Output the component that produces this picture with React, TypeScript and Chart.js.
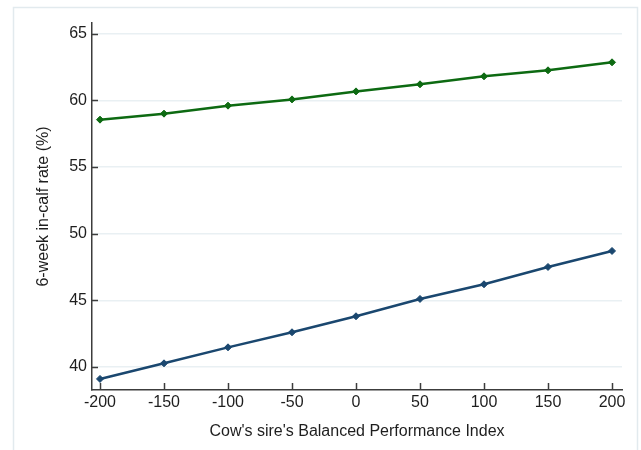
import React, { useEffect, useRef } from 'react';
import { Chart, registerables } from 'chart.js';

Chart.register(...registerables);

// ---- data ----
const bpiValues = [-200, -150, -100, -50, 0, 50, 100, 150, 200];
const greenSeries = [58.55, 59.0, 59.6, 60.07, 60.67, 61.2, 61.8, 62.25, 62.85];
const blueSeries = [39.1, 40.27, 41.47, 42.6, 43.8, 45.1, 46.2, 47.5, 48.7];
const xTickValues = [-200, -150, -100, -50, 0, 50, 100, 150, 200];
const yTickValues = [40, 45, 50, 55, 60, 65];
const xTitle = "Cow's sire's Balanced Performance Index";
const yTitle = '6-week in-calf rate (%)';

const GREEN = '#0d6a12';
const NAVY = '#1a476f';
const AXIS = '#3c3c3c';
const TEXT = '#1e1e1e';
const FONT = "'Liberation Sans', Arial, sans-serif";

const decorPlugin = {
  id: 'decor',
  beforeDraw(chart: any) {
    const ctx = chart.ctx;
    ctx.save();
    ctx.fillStyle = '#ffffff';
    ctx.fillRect(0, 0, chart.width, chart.height);
    ctx.strokeStyle = '#e2eaee';
    ctx.lineWidth = 1.5;
    ctx.strokeRect(13.5, 7.5, 624, 470);
    ctx.restore();
  },
  afterDraw(chart: any) {
    const ctx = chart.ctx;
    const { left, bottom } = chart.chartArea;
    const xs = chart.scales.x;
    const ys = chart.scales.y;
    ctx.save();
    ctx.strokeStyle = AXIS;
    ctx.lineWidth = 1.5;
    ctx.beginPath();
    xs.ticks.forEach((t: any) => {
      const px = Math.round(xs.getPixelForValue(t.value)) + 0.5;
      ctx.moveTo(px, bottom);
      ctx.lineTo(px, bottom - 7);
    });
    ys.ticks.forEach((t: any) => {
      const py = Math.round(ys.getPixelForValue(t.value)) + 0.5;
      ctx.moveTo(left, py);
      ctx.lineTo(left + 6, py);
    });
    ctx.stroke();
    ctx.restore();
  },
};

export default function App() {
  const ref = useRef<HTMLCanvasElement | null>(null);

  useEffect(() => {
    if (!ref.current) return;
    const chart = new Chart(ref.current, {
      type: 'line',
      data: {
        datasets: [
          {
            label: 'Upper',
            data: bpiValues.map((x, i) => ({ x, y: greenSeries[i] })),
            borderColor: GREEN,
            backgroundColor: GREEN,
            borderWidth: 2.5,
            pointStyle: 'rectRot',
            pointRadius: 3.5,
            pointBorderWidth: 1,
            tension: 0,
          },
          {
            label: 'Lower',
            data: bpiValues.map((x, i) => ({ x, y: blueSeries[i] })),
            borderColor: NAVY,
            backgroundColor: NAVY,
            borderWidth: 2.5,
            pointStyle: 'rectRot',
            pointRadius: 3.5,
            pointBorderWidth: 1,
            tension: 0,
          },
        ],
      },
      options: {
        animation: false,
        responsive: false,
        maintainAspectRatio: false,
        layout: { padding: { top: 23, right: 19, left: 0, bottom: 0 } },
        plugins: {
          legend: { display: false },
          tooltip: { enabled: false },
        },
        scales: {
          x: {
            type: 'linear',
            min: -206.25,
            max: 207.8,
            afterBuildTicks: (s: any) => {
              s.ticks = xTickValues.map((v) => ({ value: v }));
            },
            afterFit: (s: any) => {
              s.height = 60;
            },
            grid: { display: false, drawTicks: false },
            border: { display: true, color: AXIS, width: 1.5 },
            ticks: {
              padding: 3,
              color: TEXT,
              font: { family: FONT, size: 16 },
              maxRotation: 0,
            },
            title: {
              display: true,
              text: xTitle,
              color: TEXT,
              font: { family: FONT, size: 16 },
              padding: { top: 4, bottom: 9 },
            },
          },
          y: {
            type: 'linear',
            min: 38.27,
            max: 65.8,
            afterBuildTicks: (s: any) => {
              s.ticks = yTickValues.map((v) => ({ value: v }));
            },
            afterFit: (s: any) => {
              s.width = 92;
            },
            grid: { color: '#e9f0f3', lineWidth: 1.5, drawTicks: false },
            border: { display: true, color: AXIS, width: 1.5 },
            ticks: {
              padding: 5,
              color: TEXT,
              font: { family: FONT, size: 16 },
            },
            title: {
              display: true,
              text: yTitle,
              color: TEXT,
              font: { family: FONT, size: 16 },
              padding: { top: 34, bottom: 4 },
            },
          },
        },
      },
      plugins: [decorPlugin],
    });
    return () => chart.destroy();
  }, []);

  return (
    <div style={{ position: 'fixed', left: 0, top: 0, width: 641, height: 450, background: '#fff' }}>
      <canvas ref={ref} width={641} height={450} style={{ width: 641, height: 450, display: 'block' }} />
    </div>
  );
}
